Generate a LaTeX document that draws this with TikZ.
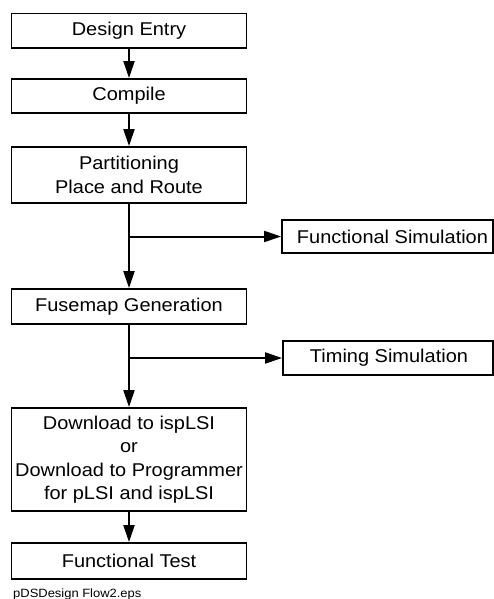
\documentclass[tikz,border=0pt]{standalone}
\usepackage{fontspec}
\setmainfont{Liberation Sans}[FakeStretch=1.08]
\usetikzlibrary{arrows.meta}
\begin{document}
\begin{tikzpicture}[x=1pt,y=-1pt,
  stagebox/.style={draw,line width=1.8pt,minimum width=235pt,inner sep=0pt,align=center,
    font=\fontsize{18.5}{23.5}\selectfont},
  simbox/.style={draw,line width=1.8pt,inner sep=0pt,align=center,
    font=\fontsize{18.5}{23.5}\selectfont},
  flow/.style={line width=2pt,-{Triangle[length=17pt,width=11pt]}}]
\useasboundingbox (0,0) rectangle (494,599);
\node[stagebox,minimum height=34.5pt] (de) at (129,30.75) {Design Entry};
\node[stagebox,minimum height=34pt] (comp) at (129,96) {Compile};
\node[stagebox,minimum height=56pt] (part) at (129,175) {Partitioning\\Place and Route};
\node[simbox,minimum width=211pt,minimum height=33pt] (fs) at (387.5,236.5) {\hspace*{10pt}Functional Simulation};
\node[stagebox,minimum height=35pt] (fuse) at (129,306.5) {Fusemap Generation};
\node[simbox,minimum width=210pt,minimum height=34pt] (ts) at (388,358) {\hspace*{2pt}Timing Simulation};
\node[stagebox,minimum height=103pt] (dl) at (129,459.5) {Download to ispLSI\\or\\Download to Programmer\\for pLSI and ispLSI};
\node[stagebox,minimum height=36pt] (ft) at (129,561) {Functional Test};
\node[anchor=base west,inner sep=0pt,font=\fontsize{12}{14}\selectfont] (cap) at (13,597) {pDSDesign Flow2.eps};
\coordinate (b1) at (part.south |- fs.west);
\coordinate (b2) at (fuse.south |- ts.west);
\draw[flow] (de) -- (comp);
\draw[flow] (comp) -- (part);
\draw[flow] (part) -- (fuse);
\draw[flow] (fuse) -- (dl);
\draw[flow] (dl) -- (ft);
\draw[flow] (b1) -- (fs.west);
\draw[flow] (b2) -- (ts.west);
\end{tikzpicture}
\end{document}
